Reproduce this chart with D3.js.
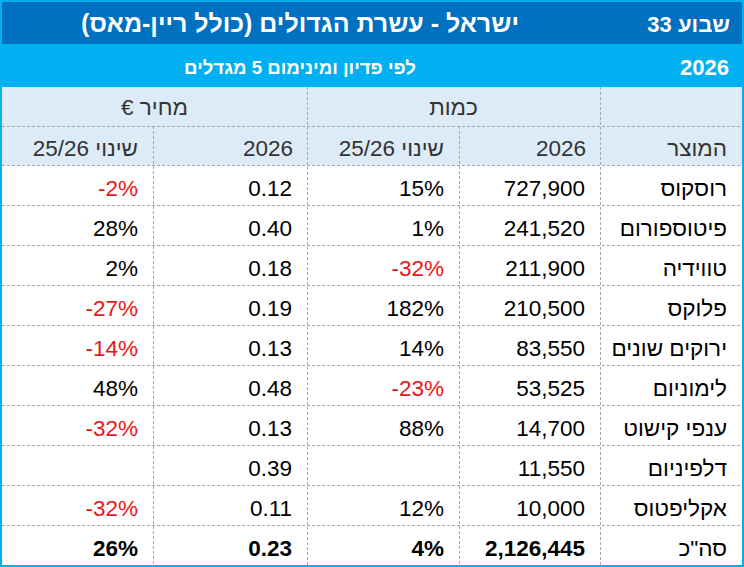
<!DOCTYPE html>
<html>
<head>
<meta charset="utf-8">
<script src="https://cdn.jsdelivr.net/npm/d3@7"></script>
<style>
  html, body { margin: 0; padding: 0; background: #fff; }
  svg { display: block; font-family: "Liberation Sans", Arial, sans-serif; }
</style>
</head>
<body>
<svg id="chart" width="744" height="567"></svg>
<script>
// chart values
const titleText = "ישראל - עשרת הגדולים (כולל ריין-מאס)";
const weekText = "שבוע 33";
const subtitleText = "לפי פדיון ומינימום 5 מגדלים";
const yearText = "2026";
const groupHeaders = ["מחיר €", "כמות"];
const columnHeaders = ["שינוי 25/26", "2026", "שינוי 25/26", "2026", "המוצר"];

const products = ["רוסקוס", "פיטוספורום", "טווידיה", "פלוקס", "ירוקים שונים", "לימוניום", "ענפי קישוט", "דלפיניום", "אקליפטוס"];
const qty2026 = [727900, 241520, 211900, 210500, 83550, 53525, 14700, 11550, 10000];
const qtyChange = [15, 1, -32, 182, 14, -23, 88, null, 12];
const price2026 = [0.12, 0.40, 0.18, 0.19, 0.13, 0.48, 0.13, 0.39, 0.11];
const priceChange = [-2, 28, 2, -27, -14, 48, -32, null, -32];

const totalLabel = 'סה"כ';
const totalValues = { qty: 2126445, qtyChange: 4, price: 0.23, priceChange: 26 };

// layout
const W = 744, H = 567;
const colKeys = ["priceChange", "price", "qtyChange", "qty", "product"];
const colEdges = [2, 153, 307, 459, 600, 742];
const pad = 15;
const font = 22.5;

const svg = d3.select("#chart");

const xLeft = d3.scaleOrdinal(colKeys, colEdges.slice(0, 5));
const xRight = d3.scaleOrdinal(colKeys, colEdges.slice(1));

const rows = products.map((p, i) => ({
  product: p,
  qty: qty2026[i],
  qtyChange: qtyChange[i],
  price: price2026[i],
  priceChange: priceChange[i],
  total: false
}));
rows.push({ product: totalLabel, ...totalValues, total: true });

const y = d3.scaleBand()
  .domain(d3.range(rows.length))
  .range([165, 565]);

const fmtInt = d3.format(",");
const fmtPrice = d3.format(".2f");
const fmtPct = v => v + "%";

// bands
svg.append("rect").attr("x", 0).attr("y", 0).attr("width", W).attr("height", 44).attr("fill", "#0070c0");
svg.append("rect").attr("x", 0).attr("y", 44).attr("width", W).attr("height", 43).attr("fill", "#00b0f0");
svg.append("rect").attr("x", 0).attr("y", 87).attr("width", W).attr("height", 78).attr("fill", "#ddebf7");

// title rows
svg.append("text")
  .attr("x", 300).attr("y", 32)
  .attr("text-anchor", "middle").attr("direction", "rtl")
  .attr("font-size", 25).attr("font-weight", "bold").attr("fill", "#fff")
  .text(titleText);
svg.append("text")
  .attr("x", 730).attr("y", 32)
  .attr("text-anchor", "start").attr("direction", "rtl")
  .attr("font-size", 22).attr("font-weight", "bold").attr("fill", "#fff")
  .text(weekText);
svg.append("text")
  .attr("x", 300).attr("y", 74)
  .attr("text-anchor", "middle").attr("direction", "rtl")
  .attr("font-size", 18.6).attr("font-weight", "bold").attr("fill", "#fff")
  .text(subtitleText);
svg.append("text")
  .attr("x", 729).attr("y", 75)
  .attr("text-anchor", "end")
  .attr("font-size", 22).attr("font-weight", "bold").attr("fill", "#fff")
  .text(yearText);

// grid
const grid = svg.append("g")
  .attr("stroke", "#a6a6a6").attr("stroke-width", 1).attr("stroke-dasharray", "3,2")
  .attr("fill", "none");

[126].concat(d3.range(rows.length).map(i => y(i))).forEach(yy => {
  grid.append("line").attr("x1", 2).attr("x2", 742)
    .attr("y1", yy + 0.5).attr("y2", yy + 0.5);
});
colEdges.slice(1, 5).forEach((xx, i) => {
  const merged = (i === 0 || i === 2);
  grid.append("line")
    .attr("x1", xx + 0.5).attr("x2", xx + 0.5)
    .attr("y1", merged ? 126 : 87).attr("y2", 565);
});

// group headers
svg.append("text")
  .attr("x", (xLeft("priceChange") + xRight("price")) / 2).attr("y", 115)
  .attr("text-anchor", "middle").attr("direction", "rtl")
  .attr("font-size", font).attr("fill", "#333")
  .text(groupHeaders[0]);
svg.append("text")
  .attr("x", (xLeft("qtyChange") + xRight("qty")) / 2).attr("y", 115)
  .attr("text-anchor", "middle").attr("direction", "rtl")
  .attr("font-size", font).attr("fill", "#333")
  .text(groupHeaders[1]);

// column headers
svg.append("g").selectAll("text")
  .data(colKeys)
  .join("text")
  .attr("x", d => xRight(d) - (d === "price" || d === "qty" ? pad - 1 : pad))
  .attr("y", 156)
  .attr("direction", "rtl")
  .attr("text-anchor", "start")
  .attr("font-size", font).attr("fill", "#333")
  .text((d, i) => columnHeaders[i]);

// body cells
const cellText = (key, v) => {
  if (v === null || v === undefined) return "";
  if (key === "qty") return fmtInt(v);
  if (key === "price") return fmtPrice(v);
  if (key === "product") return v;
  return fmtPct(v);
};

const rowG = svg.append("g").selectAll("g")
  .data(rows)
  .join("g")
  .attr("transform", (d, i) => `translate(0,${y(i) + y.bandwidth() - 9})`);

rowG.selectAll("text")
  .data(d => colKeys.map(k => ({ key: k, value: d[k], total: d.total })))
  .join("text")
  .attr("x", d => xRight(d.key) - pad)
  .attr("direction", d => d.key === "product" ? "rtl" : "ltr")
  .attr("text-anchor", d => d.key === "product" ? "start" : "end")
  .attr("font-size", font)
  .attr("font-weight", d => d.total && d.key !== "product" ? "bold" : "normal")
  .attr("fill", d => (typeof d.value === "number" && d.value < 0) ? "#e81717" : "#000")
  .text(d => cellText(d.key, d.value));

// outer frame
svg.append("rect")
  .attr("x", 1).attr("y", 1).attr("width", W - 2).attr("height", H - 2)
  .attr("fill", "none").attr("stroke", "#00b0f0").attr("stroke-width", 2);
</script>
</body>
</html>
